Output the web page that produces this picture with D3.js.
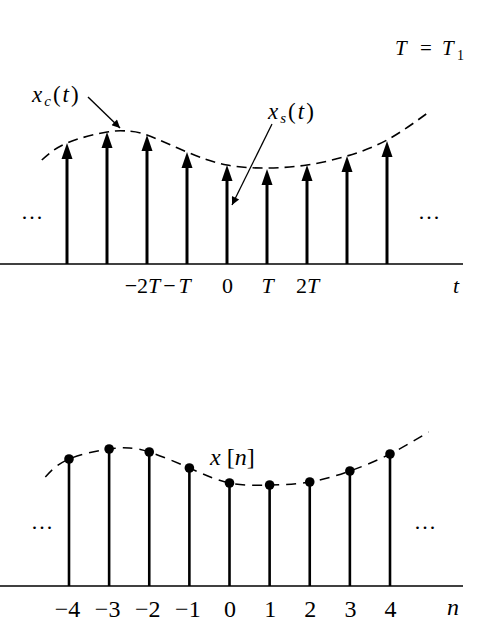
<!DOCTYPE html>
<html><head><meta charset="utf-8">
<script src="https://cdn.jsdelivr.net/npm/d3@7"></script>
</head>
<body style="margin:0;padding:0;background:#fff;">
<script>
// ---- data ----
const sampleIndex = [-4, -3, -2, -1, 0, 1, 2, 3, 4];
const xsValues = [1.21, 1.32, 1.29, 1.12, 0.99, 0.95, 0.99, 1.08, 1.23];   // x_s(t) impulse areas
const xcCurveT = [-4.63, -4, -3, -2.5, -2, -1, 0, 1, 2, 3, 4, 4.98];
const xcCurveV = [1.04, 1.21, 1.32, 1.33, 1.29, 1.12, 0.99, 0.96, 0.99, 1.08, 1.24, 1.50];
const xnValues = [1.27, 1.37, 1.34, 1.18, 1.03, 1.01, 1.04, 1.15, 1.32];   // x[n]
const xnCurveN = [-4.59, -4, -3, -2.5, -2, -1, 0, 1, 2, 3, 4, 4.96];
const xnCurveV = [1.09, 1.27, 1.37, 1.38, 1.34, 1.18, 1.03, 1.01, 1.04, 1.15, 1.32, 1.54];
const topTickValues = [-2, -1, 0, 1, 2];
const topTickLabels = ["−2T", "−T", "0", "T", "2T"];
const bottomTickValues = [-4, -3, -2, -1, 0, 1, 2, 3, 4];
const bottomTickLabels = ["−4", "−3", "−2", "−1", "0", "1", "2", "3", "4"];

const SERIF = '"Liberation Serif"';
const W = 480, H = 636;
const svg = d3.select("body").append("svg").attr("width", W).attr("height", H)
  .style("display", "block").style("font-family", SERIF);

function txt(parent) {
  return parent.append("text").style("font-family", SERIF).attr("fill", "#000");
}
function richText(sel, label) {
  const parts = label.match(/([A-Za-z]+|[^A-Za-z]+)/g) || [];
  sel.text(null);
  parts.forEach(p => {
    sel.append("tspan").text(p).style("font-family", SERIF)
      .style("font-style", /[A-Za-z]/.test(p) ? "italic" : "normal");
  });
}

// ================= TOP: x_s(t) =================
const xT = d3.scaleLinear().domain([-4, 4]).range([67, 387]);
const yT = d3.scaleLinear().domain([0, 1]).range([264, 164]);
const gTop = svg.append("g");

gTop.append("line").attr("x1", xT(-5.68)).attr("x2", xT(5.9))
  .attr("y1", yT(0)).attr("y2", yT(0)).attr("stroke", "#000").attr("stroke-width", 1.6);

const axTop = d3.axisBottom(xT).tickValues(topTickValues)
  .tickFormat((d, i) => topTickLabels[i]).tickSize(0).tickPadding(13);
const gAxTop = gTop.append("g").attr("transform", `translate(0,${yT(0)})`).call(axTop)
  .attr("font-family", null).style("font-family", SERIF);
gAxTop.select(".domain").remove();
gAxTop.selectAll("text").style("font-family", SERIF).style("font-size", "22px")
  .attr("dx", (d) => d === -2 ? -5 : d === -1 ? -9 : 0)
  .attr("letter-spacing", (d) => d === -1 ? 3 : 0)
  .each(function(d, i) { richText(d3.select(this), topTickLabels[i]); });

const lineTop = d3.line().x(d => xT(d[0])).y(d => yT(d[1])).curve(d3.curveNatural);
gTop.append("path").datum(xcCurveT.map((t, i) => [t, xcCurveV[i]]))
  .attr("d", lineTop).attr("fill", "none").attr("stroke", "#000")
  .attr("stroke-width", 1.6).attr("stroke-dasharray", "10,6");

const imp = gTop.selectAll(".imp").data(sampleIndex.map((k, i) => [k, xsValues[i]])).enter().append("g");
imp.append("line").attr("x1", d => xT(d[0])).attr("x2", d => xT(d[0]))
  .attr("y1", yT(0)).attr("y2", d => yT(d[1]) + 8)
  .attr("stroke", "#000").attr("stroke-width", 3);
imp.append("path").attr("d", d => {
  const x = xT(d[0]), y = yT(d[1]);
  return `M${x},${y} L${x - 5.5},${y + 16} L${x + 5.5},${y + 16} Z`;
}).attr("fill", "#000");

txt(gTop).attr("x", 33).attr("y", 219).attr("text-anchor", "middle")
  .style("font-size", "22px").attr("letter-spacing", 2).text("...");
txt(gTop).attr("x", 430).attr("y", 219).attr("text-anchor", "middle")
  .style("font-size", "22px").attr("letter-spacing", 2).text("...");

txt(gTop).attr("x", 456).attr("y", 293).attr("text-anchor", "middle")
  .style("font-size", "22px").style("font-style", "italic").text("t");

// T = T1
const tt = txt(svg).attr("y", 55).style("font-size", "21px");
tt.append("tspan").attr("x", 395).style("font-style", "italic").text("T");
tt.append("tspan").attr("x", 420).text("=");
tt.append("tspan").attr("x", 442).style("font-style", "italic").text("T");
tt.append("tspan").attr("x", 457).attr("dy", 5).style("font-size", "14px").text("1");

const defs = svg.append("defs");
defs.append("marker").attr("id", "ah").attr("viewBox", "0 0 10 10")
  .attr("refX", 10).attr("refY", 5).attr("markerWidth", 11).attr("markerHeight", 8)
  .attr("markerUnits", "userSpaceOnUse").attr("orient", "auto")
  .append("path").attr("d", "M0,0 L10,5 L0,10 Z").attr("fill", "#000");

// x_c(t) label
const lc = txt(svg).attr("x", 32).attr("y", 102).style("font-size", "23px").attr("letter-spacing", 2);
lc.append("tspan").style("font-style", "italic").text("x");
lc.append("tspan").style("font-style", "italic").style("font-size", "15px").attr("dy", 4).text("c");
lc.append("tspan").attr("dy", -4).text("(");
lc.append("tspan").style("font-style", "italic").text("t");
lc.append("tspan").text(")");
svg.append("line").attr("x1", 88).attr("y1", 97).attr("x2", 120).attr("y2", 128)
  .attr("stroke", "#000").attr("stroke-width", 1.4).attr("marker-end", "url(#ah)");

// x_s(t) label
const ls = txt(svg).attr("x", 268).attr("y", 119).style("font-size", "23px").attr("letter-spacing", 2);
ls.append("tspan").style("font-style", "italic").text("x");
ls.append("tspan").style("font-style", "italic").style("font-size", "15px").attr("dy", 4).text("s");
ls.append("tspan").attr("dy", -4).text("(");
ls.append("tspan").style("font-style", "italic").text("t");
ls.append("tspan").text(")");
svg.append("line").attr("x1", 272).attr("y1", 124).attr("x2", 232).attr("y2", 205)
  .attr("stroke", "#000").attr("stroke-width", 1.3).attr("marker-end", "url(#ah)");

// ================= BOTTOM: x[n] =================
const xB = d3.scaleLinear().domain([-4, 4]).range([69, 390]);
const yB = d3.scaleLinear().domain([0, 1]).range([586, 486]);
const gBot = svg.append("g");

gBot.append("line").attr("x1", xB(-5.72)).attr("x2", xB(5.82))
  .attr("y1", yB(0)).attr("y2", yB(0)).attr("stroke", "#000").attr("stroke-width", 1.6);

const axBot = d3.axisBottom(xB).tickValues(bottomTickValues)
  .tickFormat((d, i) => bottomTickLabels[i]).tickSize(0).tickPadding(14);
const gAxBot = gBot.append("g").attr("transform", `translate(0,${yB(0)})`).call(axBot)
  .attr("font-family", null).style("font-family", SERIF);
gAxBot.select(".domain").remove();
gAxBot.selectAll("text").style("font-family", SERIF).style("font-size", "24px")
  .attr("dx", d => d < 0 ? -2 : 0);

const lineBot = d3.line().x(d => xB(d[0])).y(d => yB(d[1])).curve(d3.curveNatural);
gBot.append("path").datum(xnCurveN.map((t, i) => [t, xnCurveV[i]]))
  .attr("d", lineBot).attr("fill", "none").attr("stroke", "#000")
  .attr("stroke-width", 1.5).attr("stroke-dasharray", "10,7");

const stem = gBot.selectAll(".stem").data(sampleIndex.map((k, i) => [k, xnValues[i]])).enter().append("g");
stem.append("line").attr("x1", d => xB(d[0])).attr("x2", d => xB(d[0]))
  .attr("y1", yB(0)).attr("y2", d => yB(d[1]))
  .attr("stroke", "#000").attr("stroke-width", 2.6);
stem.append("circle").attr("cx", d => xB(d[0])).attr("cy", d => yB(d[1])).attr("r", 4.8).attr("fill", "#000");

txt(gBot).attr("x", 43).attr("y", 529).attr("text-anchor", "middle")
  .style("font-size", "22px").attr("letter-spacing", 2).text("...");
txt(gBot).attr("x", 426).attr("y", 529).attr("text-anchor", "middle")
  .style("font-size", "22px").attr("letter-spacing", 2).text("...");

txt(gBot).attr("x", 453).attr("y", 615).attr("text-anchor", "middle")
  .style("font-size", "24px").style("font-style", "italic").text("n");

const lx = txt(svg).attr("x", 210).attr("y", 465).style("font-size", "24px");
lx.append("tspan").style("font-style", "italic").text("x");
lx.append("tspan").text(" [");
lx.append("tspan").style("font-style", "italic").text("n");
lx.append("tspan").text("]");
</script>
</body></html>
